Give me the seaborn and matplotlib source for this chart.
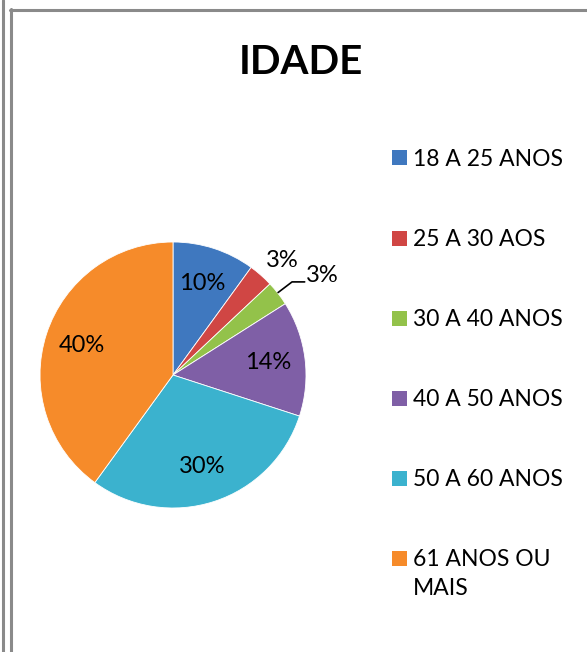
import matplotlib
matplotlib.use("Agg")
import matplotlib.pyplot as plt
import seaborn as sns
import numpy as np
from matplotlib.lines import Line2D
from matplotlib.patches import Rectangle

sns.set_theme(style="white")
plt.rcParams['font.family'] = ['Lato', 'DejaVu Sans']

categories = ["18 A 25 ANOS", "25 A 30 AOS", "30 A 40 ANOS", "40 A 50 ANOS",
              "50 A 60 ANOS", "61 ANOS OU\nMAIS"]
values = [10, 3, 3, 14, 30, 40]
colors = ["#3F78BF", "#D04644", "#93C24A", "#7F5FA6", "#3BB2CE", "#F68B2A"]

W, H = 587, 652
fig = plt.figure(figsize=(W / 100, H / 100), dpi=100)
fig.patch.set_facecolor("white")

# frame lines
gray = "#8a8a8a"
fig.add_artist(Line2D([2.5 / W, 2.5 / W], [0, 1], color=gray, lw=2.2))
fig.add_artist(Line2D([10.5 / W, 10.5 / W], [0, 1 - 9 / H], color=gray, lw=2.2))
fig.add_artist(Line2D([10 / W, 1], [1 - 9.5 / H, 1 - 9.5 / H], color=gray, lw=2.2))

cx, cy, r = 173, 375, 133
ax = fig.add_axes([(cx - r) / W, (H - cy - r) / H, 2 * r / W, 2 * r / H])
wedges, texts, autotexts = ax.pie(
    values, colors=colors, startangle=90, counterclock=False,
    autopct="%.0f%%", pctdistance=0.72,
    wedgeprops=dict(edgecolor="#ffffff", linewidth=0.6),
    textprops=dict(fontsize=17, color="black"))
ax.set_xlim(-1, 1)
ax.set_ylim(-1, 1)
ax.set_aspect("equal")
ax.axis("off")

# small slices: labels outside
autotexts[1].set_position((0.82, 0.86))
autotexts[2].set_position((1.0, 0.75))
autotexts[2].set_ha("left")
ax.plot([0.79, 0.895, 0.99], [0.62, 0.70, 0.70], color="black", lw=1.2, clip_on=False)

fig.text(301 / W, 1 - 62 / H, "IDADE", ha="center", va="center",
         fontsize=29, fontweight="bold", color="black")

# legend
row_y = [158, 238, 318, 398, 478, 558]
for lab, col, y in zip(categories, colors, row_y):
    fig.add_artist(Rectangle((392 / W, 1 - (y + 7.5) / H), 15 / W, 15 / H,
                             facecolor=col, edgecolor="none",
                             transform=fig.transFigure))
    fig.text(413 / W, 1 - (y - 9) / H, lab, ha="left", va="top",
             fontsize=16.5, color="black", linespacing=1.45)
plt.savefig("out.png", dpi=100)
